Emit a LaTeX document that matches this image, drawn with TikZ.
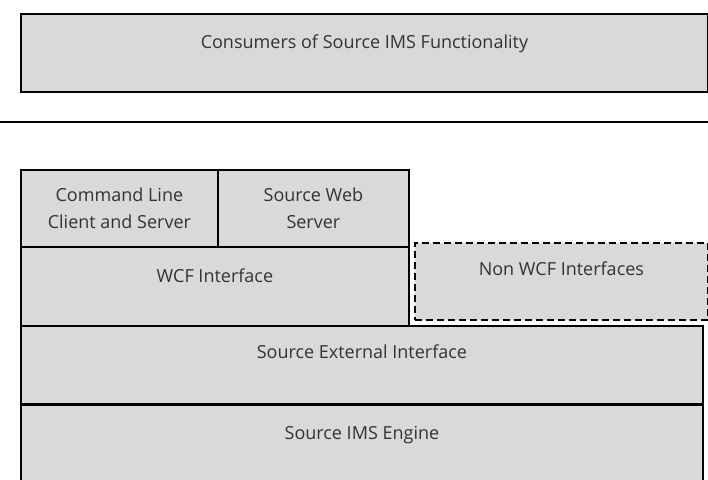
\documentclass[tikz,border=0pt]{standalone}
\usepackage{fontspec}
\setmainfont{Open Sans}
\definecolor{layergray}{RGB}{217,217,217}
\definecolor{labelgray}{RGB}{51,51,51}

\begin{document}
\begin{tikzpicture}[
  x = 1bp, y = 1bp,
  layer/.style = {draw=black, line width=1.8bp, fill=layergray, text=labelgray,
    inner sep=0pt, anchor=north west, align=center,
    font=\fontsize{18bp}{27bp}\selectfont},
  oneline/.style = {text height=13bp, text depth=#1},
  optional/.style = {layer, dash pattern=on 7bp off 4bp}
]
  \clip (0,0) rectangle (708,480);

  \node[layer, oneline=21bp, minimum width=687bp, minimum height=78bp] (consumers) at (20,467) {Consumers of Source IMS Functionality};

  \coordinate (sep-l) at (0,358);
  \coordinate (sep-r) at (708,358);
  \draw[line width=1.8bp] (sep-l) -- (sep-r);

  \node[layer, minimum width=197bp, minimum height=77bp] (cmdline) at (20,311) {Command Line\\Client and Server};
  \node[layer, minimum width=191bp, minimum height=77bp] (webserver) at (217,311) {Source Web\\Server};
  \node[layer, oneline=20bp, minimum width=388bp, minimum height=79bp] (wcf) at (20,234) {WCF Interface};
  \node[optional, oneline=24bp, minimum width=293bp, minimum height=77bp] (nonwcf) at (414,238) {Non WCF Interfaces};
  \node[layer, oneline=25bp, minimum width=682bp, minimum height=78bp] (external) at (20,155) {Source External Interface};
  \node[layer, oneline=43bp, minimum width=682bp, minimum height=100bp] (engine) at (20,76) {Source IMS Engine};
\end{tikzpicture}
\end{document}
